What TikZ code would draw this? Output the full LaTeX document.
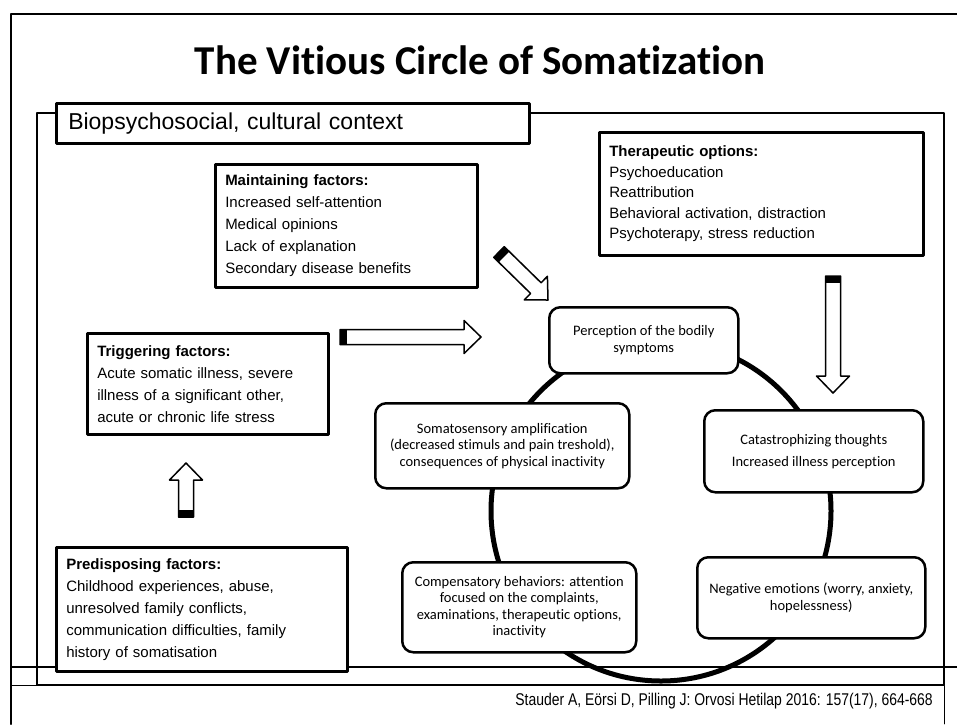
\documentclass[tikz,border=0pt]{standalone}
\usepackage{fontspec}
\setmainfont{Liberation Sans}
\newfontfamily\calibrifont[Ligatures=CommonOff]{Carlito}
\newfontfamily\narrowfont[FakeStretch=0.82]{Liberation Sans}
\usetikzlibrary{calc}
\tikzset{
  factbox/.style={draw, line width=2.5pt, fill=white, anchor=north west, align=left,
    inner xsep=10pt, inner ysep=0pt, font=\fontsize{15}{22}\selectfont},
  loopbox/.style={draw, line width=2.5pt, fill=white, rounded corners=11pt, anchor=north west,
    align=center, inner sep=2pt, font=\calibrifont\fontsize{14.5}{16.5}\selectfont},
  ring/.style={line width=5pt},
  frame/.style={line width=2pt},
  every picture/.style={line cap=round, line join=round}
}
\newcommand{\blockarrow}[2]{%
  \filldraw[fill=white, line width=1.5pt]
    ($(#1)!7.5pt!90:(#2)$) -- ($(#2)!17pt!(#1)!7.5pt!90:(#2)$)
    -- ($(#2)!17pt!(#1)!16.5pt!90:(#2)$) -- (#2)
    -- ($(#2)!17pt!(#1)!16.5pt!-90:(#2)$) -- ($(#2)!17pt!(#1)!7.5pt!-90:(#2)$)
    -- ($(#1)!7.5pt!-90:(#2)$) -- cycle;
  \fill ($(#1)!7.5pt!90:(#2)$) -- ($(#1)!7pt!(#2)!7.5pt!90:(#2)$)
    -- ($(#1)!7pt!(#2)!7.5pt!-90:(#2)$) -- ($(#1)!7.5pt!-90:(#2)$) -- cycle;
}

\begin{document}
\begin{tikzpicture}[x=1pt, y=-1pt]
  \useasboundingbox (0,0) rectangle (957,724);
  \draw[frame] (11,724) -- (11,14) -- (957,14);
  \draw[line width=1.5pt] (37,113) rectangle (944,685);
  \draw[frame] (11,667) -- (957,667);
  \draw[line width=0.8pt] (11,685) -- (944,685) -- (944,724);

  \node[font=\calibrifont\bfseries\fontsize{41}{48}\selectfont, anchor=base] (title) at (480,74) {The Vitious Circle of Somatization};
  \node[draw, line width=2.5pt, fill=white, anchor=north west, minimum width=473pt, minimum height=40pt,
    text width=449pt, inner xsep=12pt, align=left, font=\fontsize{23}{26}\selectfont] (ctx) at (55,102) {Biopsychosocial, cultural context};

  \coordinate (hub) at (661,511);
  \draw[ring] (hub) circle[radius=170pt];

  \node[factbox, minimum height=123pt, text width=242pt] (maint) at (214,163)
    {\textbf{Maintaining factors:}\\Increased self-attention\\Medical opinions\\Lack of explanation\\Secondary disease benefits};
  \node[factbox, minimum height=101pt, text width=221pt] (trig) at (86,332)
    {\textbf{Triggering factors:}\\Acute somatic illness, severe\\illness of a significant other,\\acute or chronic life stress};
  \node[factbox, minimum height=124pt, text width=271pt] (pred) at (55,546)
    {\textbf{Predisposing factors:}\\Childhood experiences, abuse,\\unresolved family conflicts,\\communication difficulties, family\\history of somatisation};
  \node[factbox, minimum height=123pt, text width=304pt, font=\fontsize{15}{20.5}\selectfont] (thera) at (598,131)
    {\textbf{Therapeutic options:}\\Psychoeducation\\Reattribution\\Behavioral activation, distraction\\Psychoterapy, stress reduction};

  \node[loopbox, minimum width=189pt, minimum height=66pt] (percep) at (548,306)
    {Perception of the bodily\\symptoms};
  \node[loopbox, minimum width=219pt, minimum height=82pt] (catas) at (703,409)
    {Catastrophizing thoughts\\[5.5pt]Increased illness perception};
  \node[loopbox, minimum width=228pt, minimum height=81pt] (negemo) at (696,556)
    {Negative emotions (worry, anxiety,\\hopelessness)};
  \node[loopbox, minimum width=234pt, minimum height=90pt] (compen) at (401,561)
    {Compensatory behaviors: attention\\focused on the complaints,\\examinations, therapeutic options,\\inactivity};
  \node[loopbox, minimum width=254pt, minimum height=85pt] (somato) at (374,402)
    {Somatosensory amplification\\(decreased stimuls and pain treshold),\\consequences of physical inactivity};

  \coordinate (trigtail) at (340,337);
  \coordinate (trigtip) at (481,337);
  \coordinate (mainttail) at (499,252);
  \coordinate (mainttip) at (548,300);
  \coordinate (theratail) at (833,276);
  \coordinate (theratip) at (833,393);
  \coordinate (predtail) at (186,517);
  \coordinate (predtip) at (186,463);
  \blockarrow{trigtail}{trigtip}
  \blockarrow{mainttail}{mainttip}
  \blockarrow{theratail}{theratip}
  \blockarrow{predtail}{predtip}

  \node[font=\narrowfont\fontsize{17}{20}\selectfont, anchor=east, inner sep=0pt] (cite) at (933,701)
    {Stauder A, Eörsi D, Pilling J: Orvosi Hetilap 2016: 157(17), 664-668};
\end{tikzpicture}
\end{document}
